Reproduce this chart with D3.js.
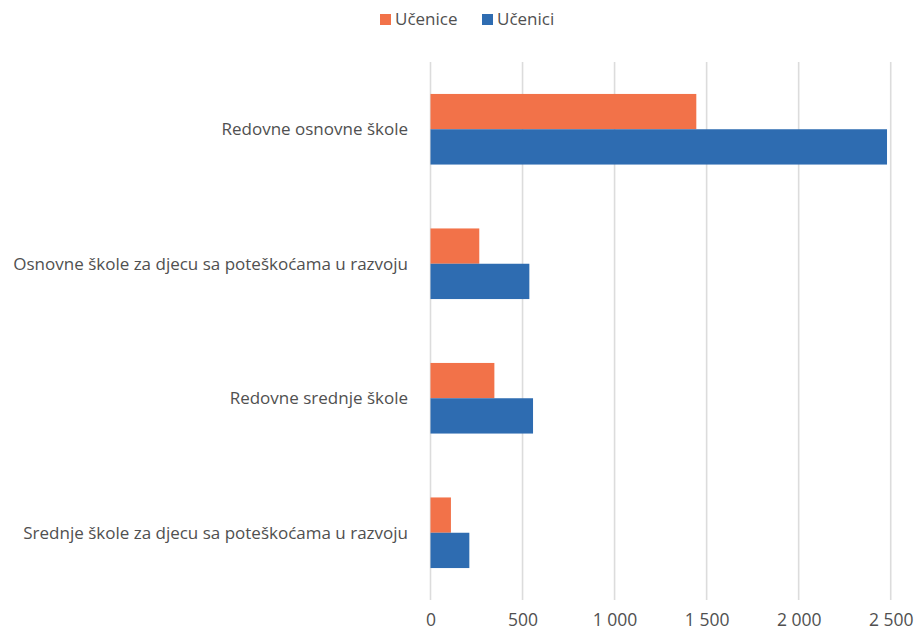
<!DOCTYPE html>
<html><head><meta charset="utf-8">
<script src="https://cdn.jsdelivr.net/npm/d3@7"></script>
<style>html,body{margin:0;padding:0;background:#fff;}svg{display:block;font-family:"Open Sans","Noto Sans",sans-serif;}</style>
</head><body>
<script>
const categories = ["Redovne osnovne škole","Osnovne škole za djecu sa poteškoćama u razvoju","Redovne srednje škole","Srednje škole za djecu sa poteškoćama u razvoju"];
const seriesNames = ["Učenice","Učenici"];
const ucenice = [1444, 265, 347, 111];
const ucenici = [2480, 537, 557, 211];
const tickValues = [0, 500, 1000, 1500, 2000, 2500];
const tickLabels = ["0","500","1 000","1 500","2 000","2 500"];
const colors = ["#F27249","#2E6CB1"];

const W = 916, H = 633;
const svg = d3.select("body").append("svg").attr("width", W).attr("height", H);
const x = d3.scaleLinear().domain([0, 2500]).range([430.5, 890.7]);
const y = d3.scaleBand().domain(categories).range([62, 600]).padding(0);
const sub = d3.scaleBand().domain(seriesNames).range([0, y.bandwidth()]).paddingInner(0).paddingOuter(0.905);

svg.append("g").selectAll("line").data(tickValues).join("line")
  .attr("x1", d => x(d)).attr("x2", d => x(d))
  .attr("y1", 62).attr("y2", 600)
  .attr("stroke", "#dcdcdc").attr("stroke-width", 1.6);

const series = [ucenice, ucenici];
series.forEach((vals, si) => {
  svg.append("g").selectAll("rect").data(vals).join("rect")
    .attr("x", x(0))
    .attr("y", (d, i) => y(categories[i]) + sub(seriesNames[si]))
    .attr("width", d => x(d) - x(0))
    .attr("height", sub.bandwidth())
    .attr("fill", colors[si]);
});

svg.append("g").selectAll("text").data(categories).join("text")
  .attr("x", 408).attr("y", d => y(d) + y.bandwidth() / 2)
  .attr("dy", "0.35em").attr("text-anchor", "end")
  .attr("font-size", 17).attr("fill", "#505050").text(d => d);

const xAxis = d3.axisBottom(x).tickValues(tickValues).tickFormat((d, i) => tickLabels[i]).tickSize(0).tickPadding(0);
const gx = svg.append("g").attr("transform", "translate(0,600)").call(xAxis);
gx.select(".domain").remove();
gx.selectAll("text").attr("y", 14).attr("dy", "0.71em").attr("font-size", 17.5).attr("fill", "#505050").attr("font-family", "\"Open Sans\",sans-serif");

const legend = [{name: seriesNames[0], color: colors[0], x: 380}, {name: seriesNames[1], color: colors[1], x: 482}];
const lg = svg.append("g").selectAll("g").data(legend).join("g");
lg.append("rect").attr("x", d => d.x).attr("y", 14).attr("width", 11).attr("height", 11).attr("fill", d => d.color);
lg.append("text").attr("x", d => d.x + 15).attr("y", 19.5).attr("dy", "0.35em")
  .attr("font-size", 17).attr("fill", "#505050").text(d => d.name);
</script>
</body></html>
